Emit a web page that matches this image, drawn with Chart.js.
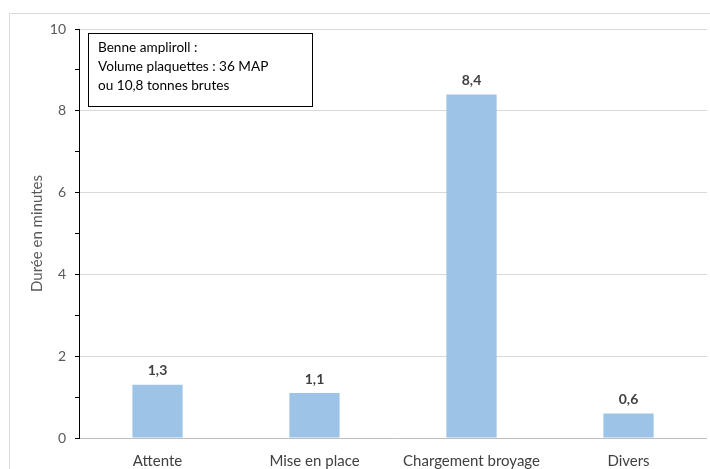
<!DOCTYPE html>
<html>
<head>
<meta charset="utf-8">
<script src="https://cdn.jsdelivr.net/npm/chart.js@4.4.1/dist/chart.umd.min.js"></script>
<style>
  html, body { margin: 0; padding: 0; background: #ffffff; overflow: hidden; width: 710px; height: 469px; }
  #wrap { width: 710px; height: 469px; position: relative; overflow: hidden; }
  canvas { display: block; }
</style>
</head>
<body>
<div id="wrap"><canvas id="c" width="710" height="469"></canvas></div>
<script>
// Durée des opérations (minutes)
const categories = ['Attente', 'Mise en place', 'Chargement broyage', 'Divers'];
const durations = [1.3, 1.1, 8.4, 0.6];
const yTickLabels = [0, 2, 4, 6, 8, 10];
const noteLines = ['Benne ampliroll :', 'Volume plaquettes : 36 MAP', 'ou 10,8 tonnes brutes'];
const yTitle = 'Durée en minutes';

const FONT = 'Lato, "Open Sans", sans-serif';

// Outer frame of the chart object (top and left edges; the rest runs off the page)
const framePlugin = {
  id: 'frame',
  beforeDraw(chart) {
    const ctx = chart.ctx;
    ctx.save();
    ctx.fillStyle = '#ffffff';
    ctx.fillRect(0, 0, chart.width, chart.height);
    ctx.strokeStyle = '#d9d9d9';
    ctx.lineWidth = 1;
    ctx.beginPath();
    ctx.moveTo(9.5, chart.height);
    ctx.lineTo(9.5, 13.5);
    ctx.lineTo(chart.width, 13.5);
    ctx.stroke();
    ctx.restore();
  }
};

// Value labels above each bar
const valueLabels = {
  id: 'valueLabels',
  afterDatasetsDraw(chart) {
    const ctx = chart.ctx;
    const meta = chart.getDatasetMeta(0);
    ctx.save();
    ctx.font = 'bold 14px ' + FONT;
    ctx.fillStyle = '#404040';
    ctx.textAlign = 'center';
    ctx.textBaseline = 'middle';
    meta.data.forEach((bar, i) => {
      const v = chart.data.datasets[0].data[i];
      ctx.fillText(v.toFixed(1).replace('.', ','), bar.x, bar.y - 14);
    });
    ctx.restore();
  }
};

// Text box in the upper-left of the plot
const noteBox = {
  id: 'noteBox',
  afterDraw(chart) {
    const ctx = chart.ctx;
    const x = 88, y = 33, w = 224, h = 73;
    ctx.save();
    ctx.fillStyle = '#ffffff';
    ctx.fillRect(x, y, w, h);
    ctx.strokeStyle = '#000000';
    ctx.lineWidth = 1;
    ctx.strokeRect(x + 0.5, y + 0.5, w, h);
    ctx.font = '13.6px ' + FONT;
    ctx.fillStyle = '#000000';
    ctx.textAlign = 'left';
    ctx.textBaseline = 'middle';
    noteLines.forEach((t, i) => ctx.fillText(t, x + 10, y + 15 + i * 19));
    ctx.restore();
  }
};

// Keep the strip right of the plot area clean
const rightEdge = {
  id: 'rightEdge',
  afterDraw(chart) {
    const ctx = chart.ctx;
    const a = chart.chartArea;
    ctx.save();
    ctx.fillStyle = '#ffffff';
    ctx.fillRect(a.right, 14, chart.width - a.right, chart.height - 14);
    ctx.restore();
  }
};

new Chart(document.getElementById('c'), {
  type: 'bar',
  data: {
    labels: categories,
    datasets: [{
      data: durations,
      backgroundColor: '#9dc3e6',
      borderWidth: 0,
      barPercentage: 0.32,
      categoryPercentage: 1.0
    }]
  },
  options: {
    responsive: false,
    animation: false,
    devicePixelRatio: 1,
    layout: { padding: { left: 0, right: 3, top: 29, bottom: 0 } },
    plugins: {
      legend: { display: false },
      tooltip: { enabled: false }
    },
    scales: {
      x: {
        grid: { display: false, drawTicks: false },
        border: { color: '#bfbfbf', width: 1 },
        ticks: { color: '#404040', font: { family: FONT, size: 15 }, padding: 14, maxRotation: 0 },
        afterFit(scale) { scale.height = 31; }
      },
      y: {
        min: 0,
        max: 10,
        ticks: {
          stepSize: 1,
          color: '#595959',
          font: { family: FONT, size: 14 },
          padding: 9,
          callback: (v) => yTickLabels.includes(v) ? String(v) : ''
        },
        grid: {
          color: (c) => (c.tick && yTickLabels.includes(c.tick.value) && c.tick.value !== 0) ? '#d9d9d9' : 'rgba(0,0,0,0)',
          tickColor: '#000000',
          tickLength: 4,
          drawOnChartArea: true
        },
        border: { color: '#000000', width: 1 },
        title: {
          display: true,
          text: yTitle,
          color: '#595959',
          font: { family: FONT, size: 15 },
          padding: { top: 28, bottom: 0 }
        },
        afterFit(scale) { scale.width = 79; }
      }
    }
  },
  plugins: [framePlugin, valueLabels, noteBox, rightEdge]
});
</script>
</body>
</html>
